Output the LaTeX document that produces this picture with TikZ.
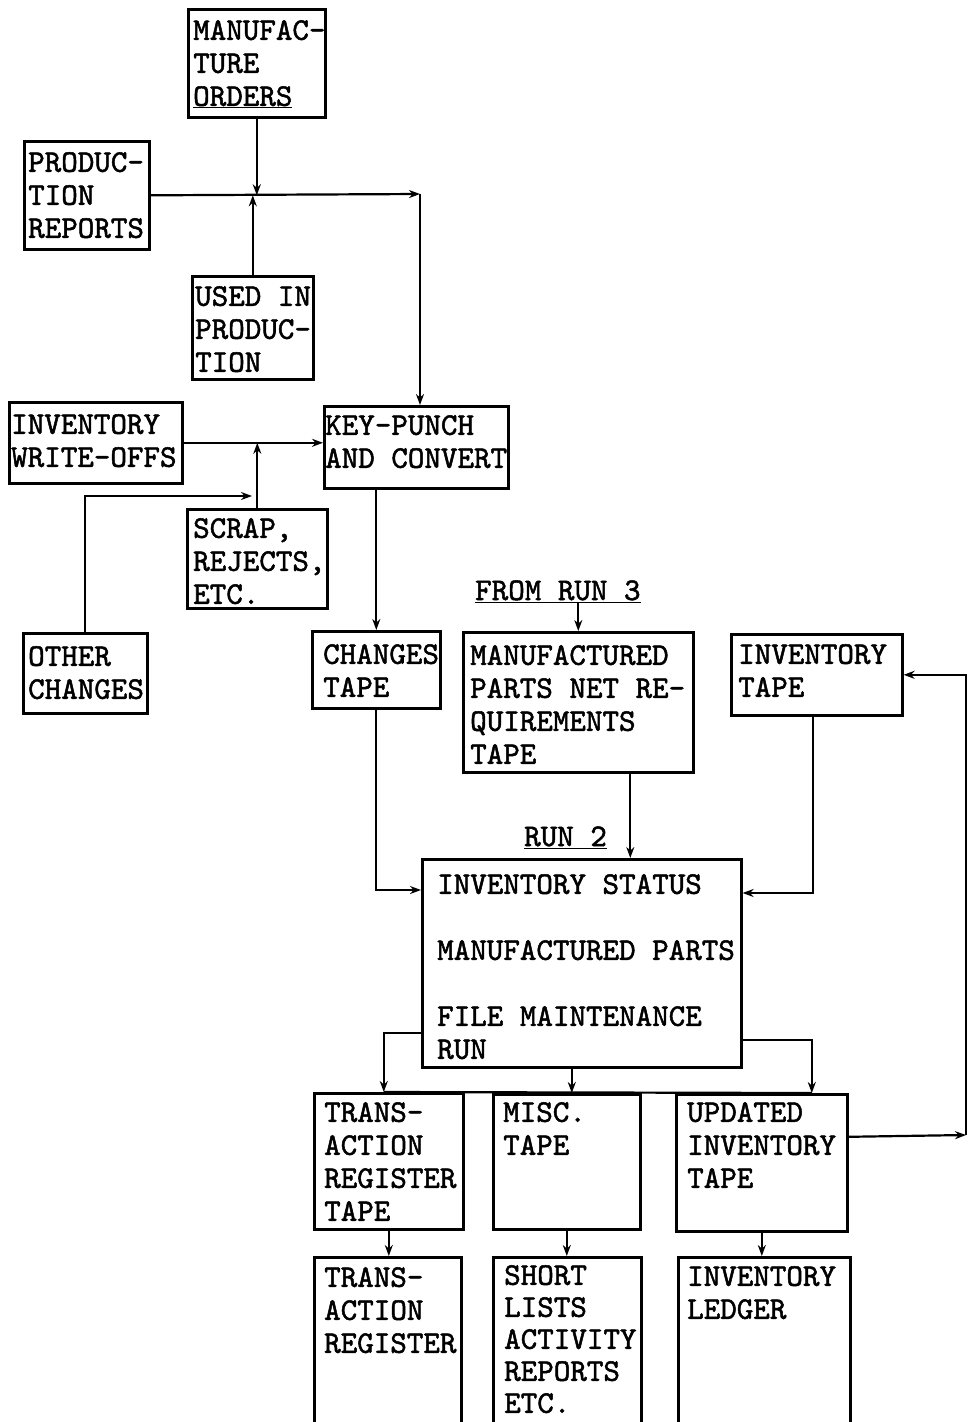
\documentclass[tikz,border=0pt]{standalone}
\usepackage{fontspec}
\setmonofont{lmmono10-regular.otf}[FakeBold=1.6]
\usepackage{tikz}
\usetikzlibrary{arrows.meta,positioning,calc}

\begin{document}
\begin{tikzpicture}[x=1pt,y=-1pt,
  font=\ttfamily\bfseries\fontsize{31.5}{33}\selectfont,
  >={Stealth[length=11pt,width=8pt]},
  box/.style={draw,line width=2.6pt,anchor=north west,inner sep=0pt},
  lbl/.style={anchor=north west,inner sep=0pt,align=left},
  link/.style={line width=2.2pt}]
\useasboundingbox (0,0) rectangle (969,1422);

% input side
\node[box,minimum width=137pt,minimum height=108pt,label={[lbl,xshift=6pt,yshift=-12pt]north west:{MANUFAC-\\TURE\\\underline{ORDERS}}}] (mo) at (187,8) {};
\node[box,minimum width=125pt,minimum height=108pt,label={[lbl,xshift=5pt,yshift=-12pt]north west:{PRODUC-\\TION\\REPORTS}}] (pr) at (23,140) {};
\node[box,minimum width=121pt,minimum height=103pt,label={[lbl,xshift=4pt,yshift=-11pt]north west:{USED IN\\PRODUC-\\TION}}] (used) at (191,275) {};
\node[box,minimum width=173pt,minimum height=81pt,label={[lbl,xshift=3pt,yshift=-13pt]north west:{INVENTORY\\WRITE-OFFS}}] (iwo) at (8,401) {};
\node[box,minimum width=184pt,minimum height=82pt,label={[lbl,xshift=2pt,yshift=-10pt]north west:{KEY-PUNCH\\AND CONVERT}}] (kp) at (323,405) {};
\node[box,minimum width=140pt,minimum height=99pt,label={[lbl,xshift=7pt,yshift=-10pt]north west:{SCRAP,\\REJECTS,\\ETC.}}] (scrap) at (186,508) {};
\node[box,minimum width=124pt,minimum height=80pt,label={[lbl,xshift=6pt,yshift=-14pt]north west:{OTHER\\CHANGES}}] (oc) at (22,632) {};

% tapes into run 2
\node[box,minimum width=128pt,minimum height=77pt,label={[lbl,xshift=12pt,yshift=-14pt]north west:{CHANGES\\TAPE}}] (ct) at (311,630) {};
\node[box,minimum width=230pt,minimum height=140pt,label={[lbl,xshift=8pt,yshift=-14pt]north west:{MANUFACTURED\\PARTS NET RE-\\QUIREMENTS\\TAPE}}] (mp) at (462,631) {};
\node[box,minimum width=171pt,minimum height=81pt,label={[lbl,xshift=8pt,yshift=-11pt]north west:{INVENTORY\\TAPE}}] (it) at (730,633) {};
\node[anchor=base west,inner sep=0pt] (fr3) at (475,600) {\underline{FROM RUN 3}};
\node[anchor=base west,inner sep=0pt] (r2) at (524,846) {\underline{RUN 2}};

\node[box,minimum width=319pt,minimum height=208pt,label={[lbl,xshift=16pt,yshift=-16pt]north west:{INVENTORY STATUS\\[33pt]MANUFACTURED PARTS\\[33pt]FILE MAINTENANCE\\RUN}}] (main) at (421,858) {};

% outputs
\node[box,minimum width=149pt,minimum height=136pt,label={[lbl,xshift=11pt,yshift=-10pt]north west:{TRANS-\\ACTION\\REGISTER\\TAPE}}] (trt) at (313,1092) {};
\node[box,minimum width=147pt,minimum height=135pt,label={[lbl,xshift=11pt,yshift=-9pt]north west:{MISC.\\TAPE}}] (misc) at (492,1093) {};
\node[box,minimum width=171pt,minimum height=137pt,label={[lbl,xshift=12pt,yshift=-9pt]north west:{UPDATED\\INVENTORY\\TAPE}}] (uit) at (675,1093) {};
\node[box,minimum width=147pt,minimum height=180pt,label={[lbl,xshift=11pt,yshift=-11pt]north west:{TRANS-\\ACTION\\REGISTER}}] (tr) at (313,1256) {};
\node[box,minimum width=148pt,minimum height=180pt,label={[lbl,xshift=12pt,yshift=-9pt,font=\ttfamily\fontsize{31.5}{32}\selectfont]north west:{SHORT\\LISTS\\ACTIVITY\\REPORTS\\ETC.}}] (sl) at (492,1256) {};
\node[box,minimum width=172pt,minimum height=180pt,label={[lbl,xshift=10pt,yshift=-10pt]north west:{INVENTORY\\LEDGER}}] (il) at (677,1256) {};

\coordinate (j1) at (mo.south |- pr.east);
\coordinate (c1) at (420,194);
\coordinate (j2) at (scrap.north |- iwo.east);
\coordinate (j3) at (256,496);
\coordinate (fb) at (966,1135);

\draw[link,->] (mo.south) -- (j1);
\draw[link,->] (used.north) -- (used.north |- j1);
\draw[link,->] (pr.east) -- (c1);
\draw[link,->] (c1) -- (c1 |- kp.north);
\draw[link,->] (iwo.east) -- (iwo.east -| kp.west);
\draw[link,->] (scrap.north) -- (j2);
\draw[link,->] (oc.north) |- ([xshift=-4pt]j3);
\draw[link,->] (ct.north |- kp.south) -- (ct.north);

\draw[link,->] (ct.south) |- ([yshift=-32pt]main.north west);
\draw[link,->] (fr3.south -| mp.north) -- (mp.north);
\draw[link,->] ([xshift=52pt]mp.south) -- ([xshift=52pt]mp.south |- main.north);
\draw[link,->] ([xshift=-4pt]it.south) |- ([yshift=-35pt]main.north east);

\draw[link,->] ([yshift=36pt]main.south west) -| ([xshift=-5pt]trt.north);
\draw[link,->] ([xshift=5pt]misc.north |- main.south) -- ([xshift=5pt]misc.north);
\draw[link,->] ([yshift=29pt]main.south east) -| ([xshift=50pt]uit.north);
\draw[link] ([xshift=-5pt]trt.north) -- ([xshift=50pt]uit.north);
\draw[link,->] ([yshift=26pt]uit.east) -- (fb);
\draw[link,->] (fb) |- (it.east);
\foreach \a/\b in {trt/tr,misc/sl,uit/il}
  \draw[link,->] (\a.south) -- (\a.south |- \b.north);
\end{tikzpicture}
\end{document}
